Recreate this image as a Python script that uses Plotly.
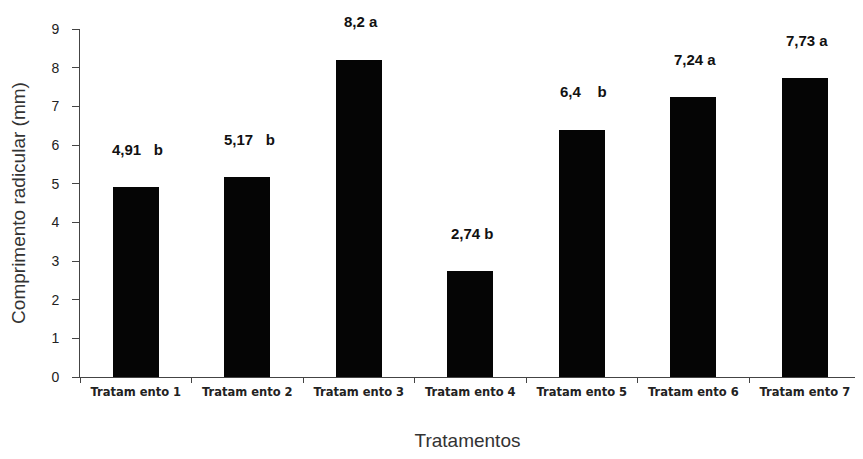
import plotly.graph_objects as go

categories = ["Tratam ento 1", "Tratam ento 2", "Tratam ento 3", "Tratam ento 4",
              "Tratam ento 5", "Tratam ento 6", "Tratam ento 7"]
values = [4.91, 5.17, 8.2, 2.74, 6.4, 7.24, 7.73]
labels = ["4,91\u00a0\u00a0\u00a0b", "5,17\u00a0\u00a0\u00a0b", "8,2 a", "2,74 b",
          "6,4\u00a0\u00a0\u00a0\u00a0b", "7,24 a", "7,73 a"]
y_ticks = [0, 1, 2, 3, 4, 5, 6, 7, 8, 9]

fig = go.Figure()
fig.add_trace(go.Bar(x=categories, y=values, marker=dict(color="#050505", line=dict(width=0)),
                     width=0.41, showlegend=False))

for c, v, t in zip(categories, values, labels):
    fig.add_annotation(x=c, y=v, text="<b>" + t + "</b>", showarrow=False, yshift=38,
                       yanchor="middle", xshift=2,
                       font=dict(family="Liberation Sans, Arial", size=15, color="#111"))

fig.update_layout(
    width=847, height=443,
    margin=dict(l=72, r=0, t=21, b=74),
    plot_bgcolor="white", paper_bgcolor="white",
    bargap=0,
    xaxis=dict(
        range=[-0.5, 6.45],
        showline=True, linecolor="#444", linewidth=1,
        ticks="outside", ticklen=5, tickcolor="#444", tickson="boundaries",
        ticklabelstandoff=4,
        tickfont=dict(family="DejaVu Sans", size=11.5, color="#222", weight="bold"),
        title=dict(text="Tratamentos", standoff=38,
                   font=dict(family="Liberation Sans, Arial", size=19, color="#333")),
    ),
    yaxis=dict(
        range=[0, 9], tickvals=y_ticks, showgrid=False, zeroline=False,
        showline=True, linecolor="#444", linewidth=1,
        ticks="outside", ticklen=7, tickcolor="#444", ticklabelstandoff=10,
        tickfont=dict(family="Liberation Sans, Arial", size=14, color="#222"),
        title=dict(text="Comprimento radicular (mm)", standoff=21,
                   font=dict(family="Liberation Sans, Arial", size=19, color="#333")),
    ),
)

fig.write_html("out.html")
